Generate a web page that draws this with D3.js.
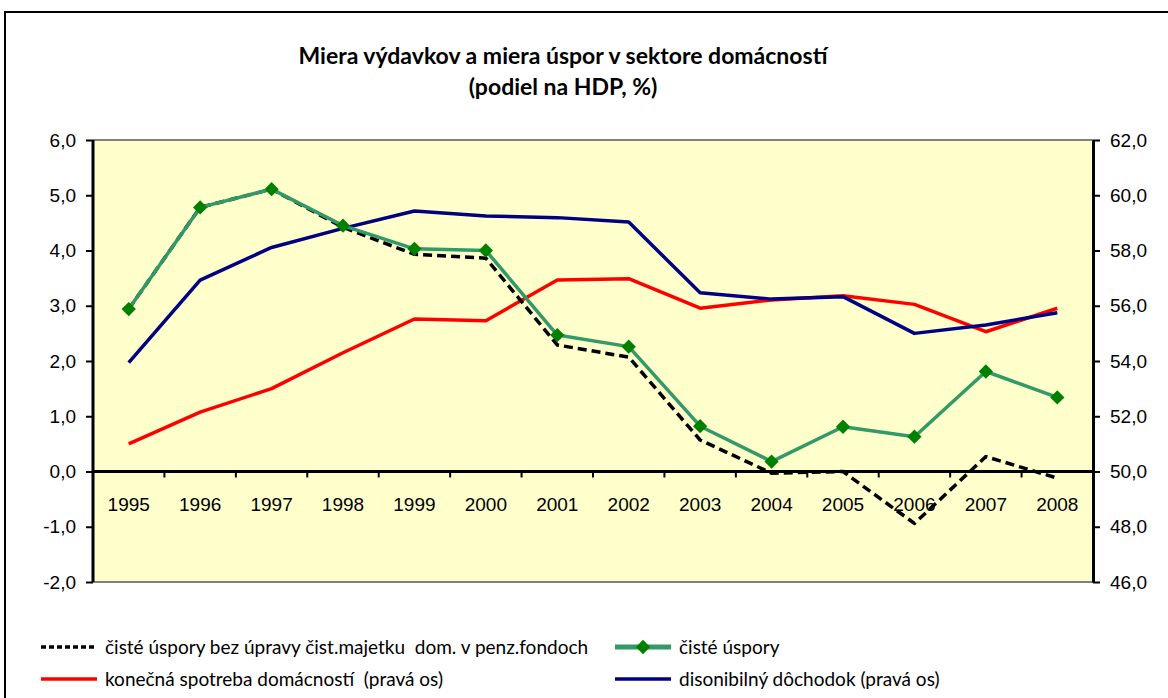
<!DOCTYPE html>
<html>
<head>
<meta charset="utf-8">
<script src="https://cdn.jsdelivr.net/npm/d3@7"></script>
<style>
  body { margin: 0; background: #fff; }
  svg { font-family: Lato, "Open Sans", sans-serif; }
</style>
</head>
<body>
<div id="chart"></div>
<script>
// years on the x axis
const years = ["1995", "1996", "1997", "1998", "1999", "2000", "2001", "2002", "2003", "2004", "2005", "2006", "2007", "2008"];

// left axis series (% of GDP)
const cisteUsporyBez = [2.94, 4.78, 5.11, 4.42, 3.93, 3.86, 2.29, 2.07, 0.57, -0.03, 0.0, -0.94, 0.27, -0.12];
const cisteUspory = [2.94, 4.78, 5.11, 4.45, 4.03, 4.0, 2.47, 2.26, 0.82, 0.18, 0.81, 0.63, 1.81, 1.34];

// right axis series
const konecnaSpotreba = [51.0, 52.15, 53.0, 54.3, 55.52, 55.46, 56.93, 56.98, 55.91, 56.21, 56.36, 56.05, 55.06, 55.91];
const disponibilny = [53.94, 56.93, 58.11, 58.8, 59.43, 59.25, 59.19, 59.03, 56.47, 56.24, 56.33, 55.0, 55.3, 55.75];

const leftTicks = [-2, -1, 0, 1, 2, 3, 4, 5, 6];
const rightTicks = [46, 48, 50, 52, 54, 56, 58, 60, 62];

const W = 1168, H = 698;
const plot = { left: 93, right: 1093, top: 140, bottom: 582 };

const locale = d3.formatLocale({ decimal: ",", thousands: " ", grouping: [3], currency: ["", ""], minus: "-" });
const fmt = locale.format(".1f");

const svg = d3.select("#chart").append("svg")
    .attr("width", W)
    .attr("height", H);

// outer chart border
svg.append("rect")
    .attr("x", 5).attr("y", 12)
    .attr("width", W + 20).attr("height", H + 20)
    .attr("fill", "#fff")
    .attr("stroke", "#000")
    .attr("stroke-width", 2);

const x = d3.scaleBand().domain(years).range([plot.left, plot.right]);
const yL = d3.scaleLinear().domain([-2, 6]).range([plot.bottom, plot.top]);
const yR = d3.scaleLinear().domain([46, 62]).range([plot.bottom, plot.top]);
const cx = d => x(d) + x.bandwidth() / 2;

// plot area
svg.append("rect")
    .attr("x", plot.left).attr("y", plot.top)
    .attr("width", plot.right - plot.left).attr("height", plot.bottom - plot.top)
    .attr("fill", "#FFFFCC");
svg.append("line")
    .attr("x1", plot.left).attr("x2", plot.right)
    .attr("y1", plot.top).attr("y2", plot.top)
    .attr("stroke", "#808080").attr("stroke-width", 2);
svg.append("line")
    .attr("x1", plot.left).attr("x2", plot.right)
    .attr("y1", plot.bottom).attr("y2", plot.bottom)
    .attr("stroke", "#808080").attr("stroke-width", 2);

// title
const title = svg.append("text")
    .attr("x", 563).attr("y", 64)
    .attr("text-anchor", "middle")
    .style("font-size", "23px")
    .style("font-weight", "bold");
title.append("tspan").attr("x", 563).text("Miera výdavkov a miera úspor v sektore domácností");
title.append("tspan").attr("x", 563).attr("dy", 31).text("(podiel na HDP, %)");

// axes
const axisStyle = g => {
    g.selectAll(".domain").attr("stroke", "#000").attr("stroke-width", 3);
    g.selectAll(".tick line").attr("stroke", "#000").attr("stroke-width", 2);
    g.selectAll(".tick text").style("font-size", "19px").attr("fill", "#000");
};

svg.append("g")
    .attr("transform", `translate(${plot.left},0)`)
    .call(d3.axisLeft(yL).tickValues(leftTicks).tickFormat(fmt).tickSize(7).tickSizeOuter(0).tickPadding(10))
    .call(axisStyle)
    .call(g => g.select(".domain").attr("d", `M0,${plot.top}V${plot.bottom}`));

svg.append("g")
    .attr("transform", `translate(${plot.right},0)`)
    .call(d3.axisRight(yR).tickValues(rightTicks).tickFormat(fmt).tickSize(7).tickSizeOuter(0).tickPadding(10))
    .call(axisStyle);

// x axis at zero, labels centred in each band
const xAxis = svg.append("g")
    .attr("transform", `translate(0,${yL(0)})`)
    .call(d3.axisBottom(x).tickSize(0).tickPadding(26))
    .call(axisStyle);
xAxis.select(".domain").attr("d", `M${plot.left},0H${plot.right}`);

// tick marks on the band boundaries
xAxis.selectAll(".bound")
    .data(years.slice(1))
    .join("line")
    .attr("x1", d => x(d)).attr("x2", d => x(d))
    .attr("y1", 0).attr("y2", 6)
    .attr("stroke", "#000").attr("stroke-width", 2);

// series
const series = [
    { name: "konečná spotreba domácností  (pravá os)", values: konecnaSpotreba, y: yR, color: "#FF0000", dash: null, marker: false },
    { name: "disonibilný dôchodok (pravá os)", values: disponibilny, y: yR, color: "#000080", dash: null, marker: false },
    { name: "čisté úspory bez úpravy čist.majetku  dom. v penz.fondoch", values: cisteUsporyBez, y: yL, color: "#000000", dash: "9,5", marker: false },
    { name: "čisté úspory", values: cisteUspory, y: yL, color: "#339966", dash: null, marker: true }
];

series.forEach(s => {
    const line = d3.line()
        .x((d, i) => cx(years[i]))
        .y(d => s.y(d));
    svg.append("path")
        .datum(s.values)
        .attr("d", line)
        .attr("fill", "none")
        .attr("stroke", s.color)
        .attr("stroke-width", 3.5)
        .attr("stroke-dasharray", s.dash)
        .attr("stroke-linejoin", "round");
    if (s.marker) {
        svg.selectAll(null)
            .data(s.values)
            .join("path")
            .attr("d", d3.symbol(d3.symbolDiamond2, 130))
            .attr("transform", (d, i) => `translate(${cx(years[i])},${s.y(d)})`)
            .attr("fill", "#008000");
    }
});

// legend
const legendItems = [
    { s: series[2], x: 41, y: 647 },
    { s: series[3], x: 615, y: 647 },
    { s: series[0], x: 41, y: 679 },
    { s: series[1], x: 615, y: 679 }
];
const lg = svg.append("g").selectAll("g")
    .data(legendItems)
    .join("g")
    .attr("transform", d => `translate(${d.x},${d.y})`);
lg.append("line")
    .attr("x1", 0).attr("x2", 56)
    .attr("stroke", d => d.s.color)
    .attr("stroke-width", d => d.s.marker ? 5 : 3.5)
    .attr("stroke-dasharray", d => d.s.dash ? "5,3" : null);
lg.filter(d => d.s.marker).append("path")
    .attr("d", d3.symbol(d3.symbolDiamond2, 130))
    .attr("transform", "translate(28,0)")
    .attr("fill", "#008000");
lg.append("text")
    .attr("x", 64)
    .attr("dy", "0.35em")
    .style("font-size", "19px")
    .style("white-space", "pre")
    .text(d => d.s.name);
</script>
</body>
</html>
